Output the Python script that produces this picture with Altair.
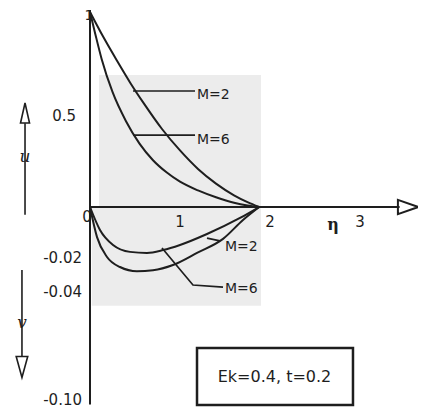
import altair as alt
import pandas as pd

# ---- curve data (eta, value) ----
eta_u2 = [0, 0.15, 0.3, 0.45, 0.6, 0.8, 1.0, 1.2, 1.4, 1.6, 1.75, 1.88]
u_m2 = [1, 0.87, 0.75, 0.635, 0.53, 0.40, 0.29, 0.195, 0.12, 0.06, 0.025, 0]
eta_u6 = [0, 0.06, 0.13, 0.25, 0.4, 0.55, 0.7, 0.85, 1.0, 1.2, 1.4, 1.6, 1.75, 1.88]
u_m6 = [1, 0.885, 0.758, 0.59, 0.44, 0.325, 0.24, 0.178, 0.13, 0.085, 0.05, 0.022, 0.008, 0]
eta_v2 = [0, 0.111, 0.256, 0.444, 0.633, 0.811, 1.0, 1.3, 1.667, 1.88]
v_m2 = [0, -0.009, -0.0149, -0.0176, -0.018, -0.0169, -0.0149, -0.0106, -0.0043, 0]
eta_v6 = [0, 0.078, 0.189, 0.333, 0.522, 0.7, 0.922, 1.189, 1.478, 1.7, 1.88]
v_m6 = [0, -0.0118, -0.0196, -0.0253, -0.0278, -0.0272, -0.0241, -0.018, -0.0125, -0.0051, 0]

# ---- tick labels ----
y_tick_vals = [-0.10, -0.04, -0.02]
y_tick_text = ["-0.10", "-0.04", "-0.02"]
u_tick_vals = [0.5]
u_tick_text = ["0.5"]
x_tick_vals = [1, 2, 3]
x_tick_text = ["1", "2", "3"]

# ---- annotations (data coordinates) ----
leader_group = ["u2", "u2", "u6", "u6", "v2", "v2", "v6", "v6", "v6"]
leader_x = [0.478, 1.167, 0.478, 1.167, 1.3, 1.444, 0.8, 1.144, 1.478]
leader_y = [0.595, 0.595, 0.369, 0.369, -0.0122, -0.0133, -0.0161, -0.0359, -0.0371]
label_text = ["M=2", "M=6", "M=2", "M=6"]
label_x = [1.189, 1.189, 1.5, 1.5]
label_y = [0.575, 0.345, -0.0157, -0.0382]

box_x = [1.189, 2.922]
box_y = [-0.0711, -0.1028]
box_text = "Ek=0.4, t=0.2"
box_text_pos = [2.05, -0.0872]

# scanned grey tone regions
tone_x = [0.1, 0.02]
tone_x2 = [1.9, 1.9]
tone_y = [0.677, 0]
tone_y2 = [0, -0.0476]

X_MAX = 3.6444
xdom = [0, X_MAX]
ydom = [-0.10, -0.04, -0.02, 0, 1]
yrange = [388, 280, 246, 195, 0]

INK = "#1e1e1e"
FONT = "DejaVu Sans"


def X(field="x"):
    return alt.X(f"{field}:Q", scale=alt.Scale(domain=xdom, nice=False, zero=False), axis=None)


def Y(field="y"):
    return alt.Y(f"{field}:Q", scale=alt.Scale(domain=ydom, range=yrange, nice=False, zero=False), axis=None)


rows = []
for name, xs, ys in [("u2", eta_u2, u_m2), ("u6", eta_u6, u_m6), ("v2", eta_v2, v_m2), ("v6", eta_v6, v_m6)]:
    for i, (a, b) in enumerate(zip(xs, ys)):
        rows.append({"x": a, "y": b, "s": name, "o": i})
curves_df = pd.DataFrame(rows)

curves = alt.Chart(curves_df).mark_line(color=INK, strokeWidth=2, interpolate="monotone").encode(
    x=X(), y=Y(), detail="s:N", order="o:Q")

bg_df = pd.DataFrame({"x": tone_x, "x2": tone_x2, "y": tone_y, "y2": tone_y2})
bg = alt.Chart(bg_df).mark_rect(color="#d4d4d4", opacity=0.45).encode(
    x=X(), x2="x2:Q", y=Y(), y2="y2:Q")

yaxis_df = pd.DataFrame({"x": [0], "y": [-0.1025], "y2": [1.01]})
yaxis = alt.Chart(yaxis_df).mark_rule(color=INK, strokeWidth=2).encode(x=X(), y=Y(), y2="y2:Q")
xaxis_df = pd.DataFrame({"x": [0], "x2": [3.44], "y": [0]})
xaxis = alt.Chart(xaxis_df).mark_rule(color=INK, strokeWidth=2).encode(x=X(), x2="x2:Q", y=Y())
xarrow_df = pd.DataFrame({"x": [3.535], "y": [0]})
xarrow = alt.Chart(xarrow_df).mark_point(
    shape="M-1,-0.7L1,0L-1,0.7Z", size=420, filled=False, color=INK, strokeWidth=2, opacity=1
).encode(x=X(), y=Y())

ylab_df = pd.DataFrame({"x": [0] * len(y_tick_vals), "y": y_tick_vals, "t": y_tick_text})
ylab = alt.Chart(ylab_df).mark_text(align="right", baseline="middle", dx=-8, font=FONT, fontSize=15, color=INK).encode(
    x=X(), y=Y(), text="t:N")
ulab_df = pd.DataFrame({"x": [0] * len(u_tick_vals), "y": u_tick_vals, "t": u_tick_text})
ulab = alt.Chart(ulab_df).mark_text(align="right", baseline="middle", dx=-14, dy=6, font=FONT, fontSize=15, color=INK).encode(
    x=X(), y=Y(), text="t:N")
xlab_df = pd.DataFrame({"x": x_tick_vals, "y": [0] * len(x_tick_vals), "t": x_tick_text})
xlab = alt.Chart(xlab_df).mark_text(align="center", baseline="middle", dy=15, font=FONT, fontSize=15, color=INK).encode(
    x=X(), y=Y(), text="t:N")
zero_df = pd.DataFrame({"x": [0], "y": [0], "t": ["0"]})
zero = alt.Chart(zero_df).mark_text(align="center", baseline="middle", dx=-3, dy=10, font=FONT, fontSize=15, color=INK).encode(
    x=X(), y=Y(), text="t:N")
one_df = pd.DataFrame({"x": [0], "y": [1], "t": ["1"]})
one = alt.Chart(one_df).mark_text(align="center", baseline="middle", dx=-1, dy=4, font=FONT, fontSize=14, color=INK).encode(
    x=X(), y=Y(), text="t:N")
eta_df = pd.DataFrame({"x": [2.7], "y": [0], "t": ["η"]})
eta = alt.Chart(eta_df).mark_text(align="center", baseline="middle", dy=18, font="DejaVu Serif", fontSize=16,
                                  fontWeight="bold", color=INK).encode(x=X(), y=Y(), text="t:N")

lead_df = pd.DataFrame({"x": leader_x, "y": leader_y, "g": leader_group, "o": list(range(len(leader_x)))})
leaders = alt.Chart(lead_df).mark_line(color=INK, strokeWidth=1.7).encode(x=X(), y=Y(), detail="g:N", order="o:Q")
mlab_df = pd.DataFrame({"x": label_x, "y": label_y, "t": label_text})
mlab = alt.Chart(mlab_df).mark_text(align="left", baseline="middle", font=FONT, fontSize=14, color=INK).encode(
    x=X(), y=Y(), text="t:N")

box_df = pd.DataFrame({"x": [box_x[0]], "x2": [box_x[1]], "y": [box_y[0]], "y2": [box_y[1]]})
box = alt.Chart(box_df).mark_rect(fill="white", stroke=INK, strokeWidth=2.5).encode(
    x=X(), x2="x2:Q", y=Y(), y2="y2:Q")
boxt_df = pd.DataFrame({"x": [box_text_pos[0]], "y": [box_text_pos[1]], "t": [box_text]})
boxt = alt.Chart(boxt_df).mark_text(align="center", baseline="middle", font=FONT, fontSize=16, color=INK).encode(
    x=X(), y=Y(), text="t:N")

uline_df = pd.DataFrame({"x": [-0.722], "y": [-0.003], "y2": [0.43]})
uline = alt.Chart(uline_df).mark_rule(color=INK, strokeWidth=1.6).encode(x=X(), y=Y(), y2="y2:Q")
uhead_df = pd.DataFrame({"x": [-0.722], "y": [0.482]})
uhead = alt.Chart(uhead_df).mark_point(shape="M0,-1L0.45,1L-0.45,1Z", size=400, filled=False, color=INK,
                                       strokeWidth=1.6, opacity=1).encode(x=X(), y=Y())
vline_df = pd.DataFrame({"x": [-0.756], "y": [-0.0271], "y2": [-0.0761]})
vline = alt.Chart(vline_df).mark_rule(color=INK, strokeWidth=1.6).encode(x=X(), y=Y(), y2="y2:Q")
vhead_df = pd.DataFrame({"x": [-0.756], "y": [-0.0817]})
vhead = alt.Chart(vhead_df).mark_point(shape="M0,1L0.55,-1L-0.55,-1Z", size=440, filled=False, color=INK,
                                       strokeWidth=1.6, opacity=1).encode(x=X(), y=Y())
uvlab_df = pd.DataFrame({"x": [-0.722, -0.756], "y": [0.256, -0.0572], "t": ["u", "v"]})
uvlab = alt.Chart(uvlab_df).mark_text(align="center", baseline="middle", font="DejaVu Serif", fontStyle="italic",
                                      fontSize=17, color=INK).encode(x=X(), y=Y(), text="t:N")

chart = alt.layer(
    bg, yaxis, xaxis, xarrow, curves, leaders, mlab, ylab, ulab, xlab, zero, one, eta,
    box, boxt, uline, uhead, vline, vhead, uvlab
).properties(
    width=328, height=392,
    autosize=alt.AutoSizeParams(type="none"),
    padding={"left": 82, "top": 4, "right": 0, "bottom": 4},
).configure_view(stroke=None)

chart.save("out.html", embed_options={"renderer": "svg", "actions": False})
